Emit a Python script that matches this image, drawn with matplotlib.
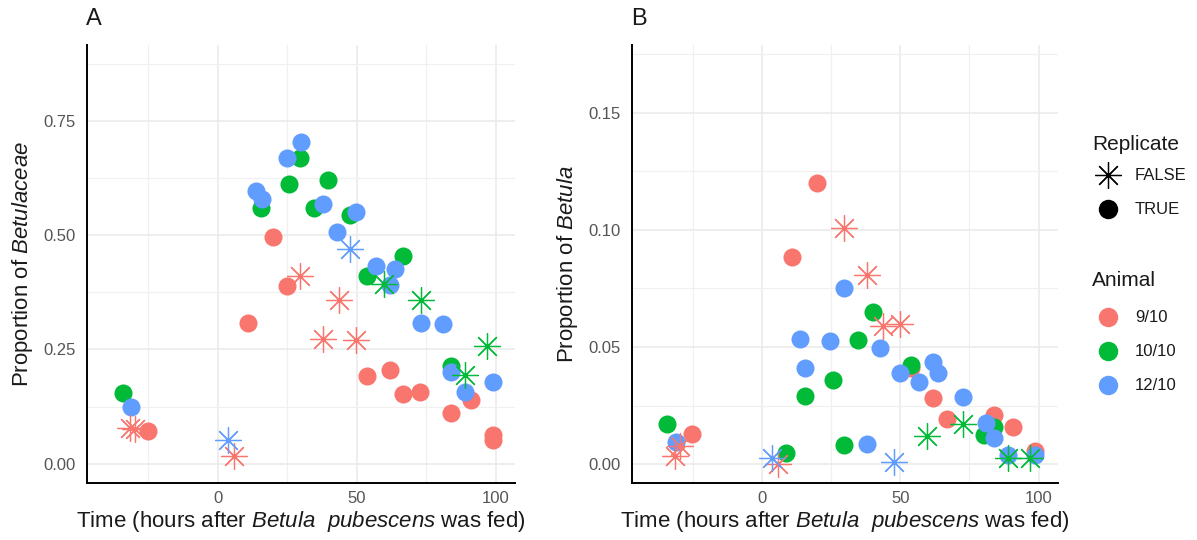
import matplotlib
matplotlib.use("Agg")
from matplotlib import pyplot as plt

plt.rcParams['font.family'] = ['Liberation Sans', 'DejaVu Sans']
plt.rcParams['mathtext.fontset'] = 'custom'
plt.rcParams['mathtext.rm'] = 'Liberation Sans'
plt.rcParams['mathtext.it'] = 'Liberation Sans:italic'

animals = ["9/10", "10/10", "12/10"]
colors = {"9/10": "#F8766D", "10/10": "#00BA38", "12/10": "#619CFF"}

# panel A: proportion of Betulaceae, circles (Replicate TRUE)
a_true_x = {
    "9/10": [-25.1, 19.8, 25.0, 10.8, 53.8, 61.9, 66.7, 72.7, 83.8, 91.0, 99.0, 99.0],
    "10/10": [-34.2, 29.8, 25.8, 39.7, 15.7, 34.8, 47.8, 66.7, 53.8, 83.8],
    "12/10": [-31.1, 29.9, 25.0, 13.8, 16.0, 37.8, 49.8, 42.8, 56.9, 64.0, 61.9, 73.0, 81.0, 83.8, 88.9, 99.0],
}
a_true_y = {
    "9/10": [0.071, 0.497, 0.389, 0.309, 0.191, 0.206, 0.152, 0.156, 0.111, 0.140, 0.063, 0.052],
    "10/10": [0.155, 0.668, 0.612, 0.620, 0.559, 0.559, 0.545, 0.455, 0.411, 0.213],
    "12/10": [0.125, 0.704, 0.668, 0.597, 0.579, 0.568, 0.550, 0.507, 0.433, 0.426, 0.390, 0.308, 0.305, 0.200, 0.157, 0.179],
}
# panel A: asterisks (Replicate FALSE)
a_false_x = {
    "9/10": [-31.4, -29.6, 29.8, 43.8, 37.8, 49.8, 5.8],
    "10/10": [60.0, 73.0, 97.0, 88.9],
    "12/10": [47.8, 3.7],
}
a_false_y = {
    "9/10": [0.078, 0.076, 0.410, 0.359, 0.273, 0.270, 0.018],
    "10/10": [0.394, 0.359, 0.257, 0.195],
    "12/10": [0.470, 0.052],
}

# panel B: proportion of Betula
b_true_x = {
    "9/10": [-25.2, 19.8, 10.8, 53.8, 61.8, 66.9, 83.8, 90.8, 98.8],
    "10/10": [-34.2, 8.5, 29.8, 15.7, 25.8, 34.8, 40.0, 53.8, 80.4, 83.8],
    "12/10": [-31.2, 29.8, 13.8, 24.7, 15.7, 37.8, 42.7, 49.8, 56.8, 61.8, 63.7, 72.7, 81.0, 83.8, 88.8, 98.6],
}
b_true_y = {
    "9/10": [0.0128, 0.120, 0.0885, 0.041, 0.028, 0.0193, 0.021, 0.016, 0.0054],
    "10/10": [0.0173, 0.0047, 0.0083, 0.029, 0.036, 0.053, 0.065, 0.0425, 0.0126, 0.016],
    "12/10": [0.0093, 0.075, 0.0535, 0.0525, 0.041, 0.0087, 0.0497, 0.039, 0.035, 0.0435, 0.0387, 0.0285, 0.0176, 0.011, 0.004, 0.004],
}
b_false_x = {
    "9/10": [-31.4, -29.6, 29.8, 37.8, 43.8, 49.8, 5.8],
    "10/10": [59.8, 72.7, 88.8, 97.0],
    "12/10": [3.7, 47.8],
}
b_false_y = {
    "9/10": [0.0036, 0.0076, 0.101, 0.0806, 0.059, 0.060, 0.0],
    "10/10": [0.0118, 0.017, 0.0026, 0.0026],
    "12/10": [0.0026, 0.0007],
}

x_ticks = [0, 50, 100]
x_minor = [-25, 25, 75]
a_ticks = [0.0, 0.25, 0.5, 0.75]
a_minor = [0.125, 0.375, 0.625, 0.875]
b_ticks = [0.0, 0.05, 0.10, 0.15]
b_minor = [0.025, 0.075, 0.125, 0.175]

STAR = (8, 2, 0)
W, H = 1197, 540
XLABEL = r"Time (hours after $\it{Betula}$  $\it{pubescens}$ was fed)"


def style_axes(ax, yticks, yminor, ylim, ylabel):
    ax.set_xlim(-47, 107)
    ax.set_ylim(*ylim)
    ax.set_xticks(x_ticks)
    ax.set_xticks(x_minor, minor=True)
    ax.set_yticks(yticks)
    ax.set_yticks(yminor, minor=True)
    ax.set_yticklabels(["%.2f" % t for t in yticks])
    ax.grid(which='major', color='#ebebeb', linewidth=1.2)
    ax.grid(which='minor', color='#f0f0f0', linewidth=0.9)
    ax.set_axisbelow(True)
    for s in ['top', 'right']:
        ax.spines[s].set_visible(False)
    for s in ['left', 'bottom']:
        ax.spines[s].set_linewidth(1.4)
        ax.spines[s].set_color('black')
    ax.tick_params(which='both', length=0, labelsize=12, labelcolor='#555555')
    ax.tick_params(axis='y', pad=8)
    ax.tick_params(axis='x', pad=6)
    ax.set_xlabel(XLABEL, fontsize=16, labelpad=2, color='#1a1a1a')
    ax.set_ylabel(ylabel, fontsize=16, labelpad=6, color='#1a1a1a')


def draw(ax, tx, ty, fx, fy):
    for a in animals:
        ax.plot(tx[a], ty[a], 'o', ms=13, color=colors[a], mec='none', zorder=3)
    for a in animals:
        ax.plot(fx[a], fy[a], linestyle='none', marker=STAR, ms=19, mew=0.9,
                color=colors[a], zorder=4)


fig = plt.figure(figsize=(W / 100, H / 100), dpi=100)
ax1 = fig.add_axes([87 / W, 1 - 483 / H, (515 - 87) / W, (483 - 45) / H])
ax2 = fig.add_axes([632 / W, 1 - 483 / H, (1058 - 632) / W, (483 - 45) / H])

draw(ax1, a_true_x, a_true_y, a_false_x, a_false_y)
style_axes(ax1, a_ticks, a_minor, (-0.042, 0.916), r"Proportion of $\it{Betulaceae}$")

draw(ax2, b_true_x, b_true_y, b_false_x, b_false_y)
style_axes(ax2, b_ticks, b_minor, (-0.0081, 0.179), r"Proportion of $\it{Betula}$")

fig.text(86 / W, 1 - 19 / H, "A", fontsize=17, va='center', ha='left', color='#1a1a1a')
fig.text(631 / W, 1 - 19 / H, "B", fontsize=17, va='center', ha='left', color='#1a1a1a')

# legend drawn on an overlay in pixel units
lg = fig.add_axes([0, 0, 1, 1])
lg.set_xlim(0, W)
lg.set_ylim(H, 0)
lg.axis('off')

lg.text(1092, 144, "Replicate", fontsize=15, va='center', ha='left', color='#1a1a1a')
rep_labels = ["FALSE", "TRUE"]
rep_marks = [STAR, 'o']
for i, (lab, m) in enumerate(zip(rep_labels, rep_marks)):
    yy = 175 + 34 * i
    if m == 'o':
        lg.plot([1108], [yy], 'o', ms=14, color='black', mec='none')
    else:
        lg.plot([1108], [yy], linestyle='none', marker=m, ms=19, mew=0.9, color='black')
    lg.text(1135, yy, lab, fontsize=12, va='center', ha='left', color='#1a1a1a')

lg.text(1092, 280, "Animal", fontsize=15, va='center', ha='left', color='#1a1a1a')
for i, a in enumerate(animals):
    yy = 317 + 34 * i
    lg.plot([1108], [yy], 'o', ms=14, color=colors[a], mec='none')
    lg.text(1135, yy, a, fontsize=12, va='center', ha='left', color='#1a1a1a')

fig.savefig("out.png", dpi=100)
